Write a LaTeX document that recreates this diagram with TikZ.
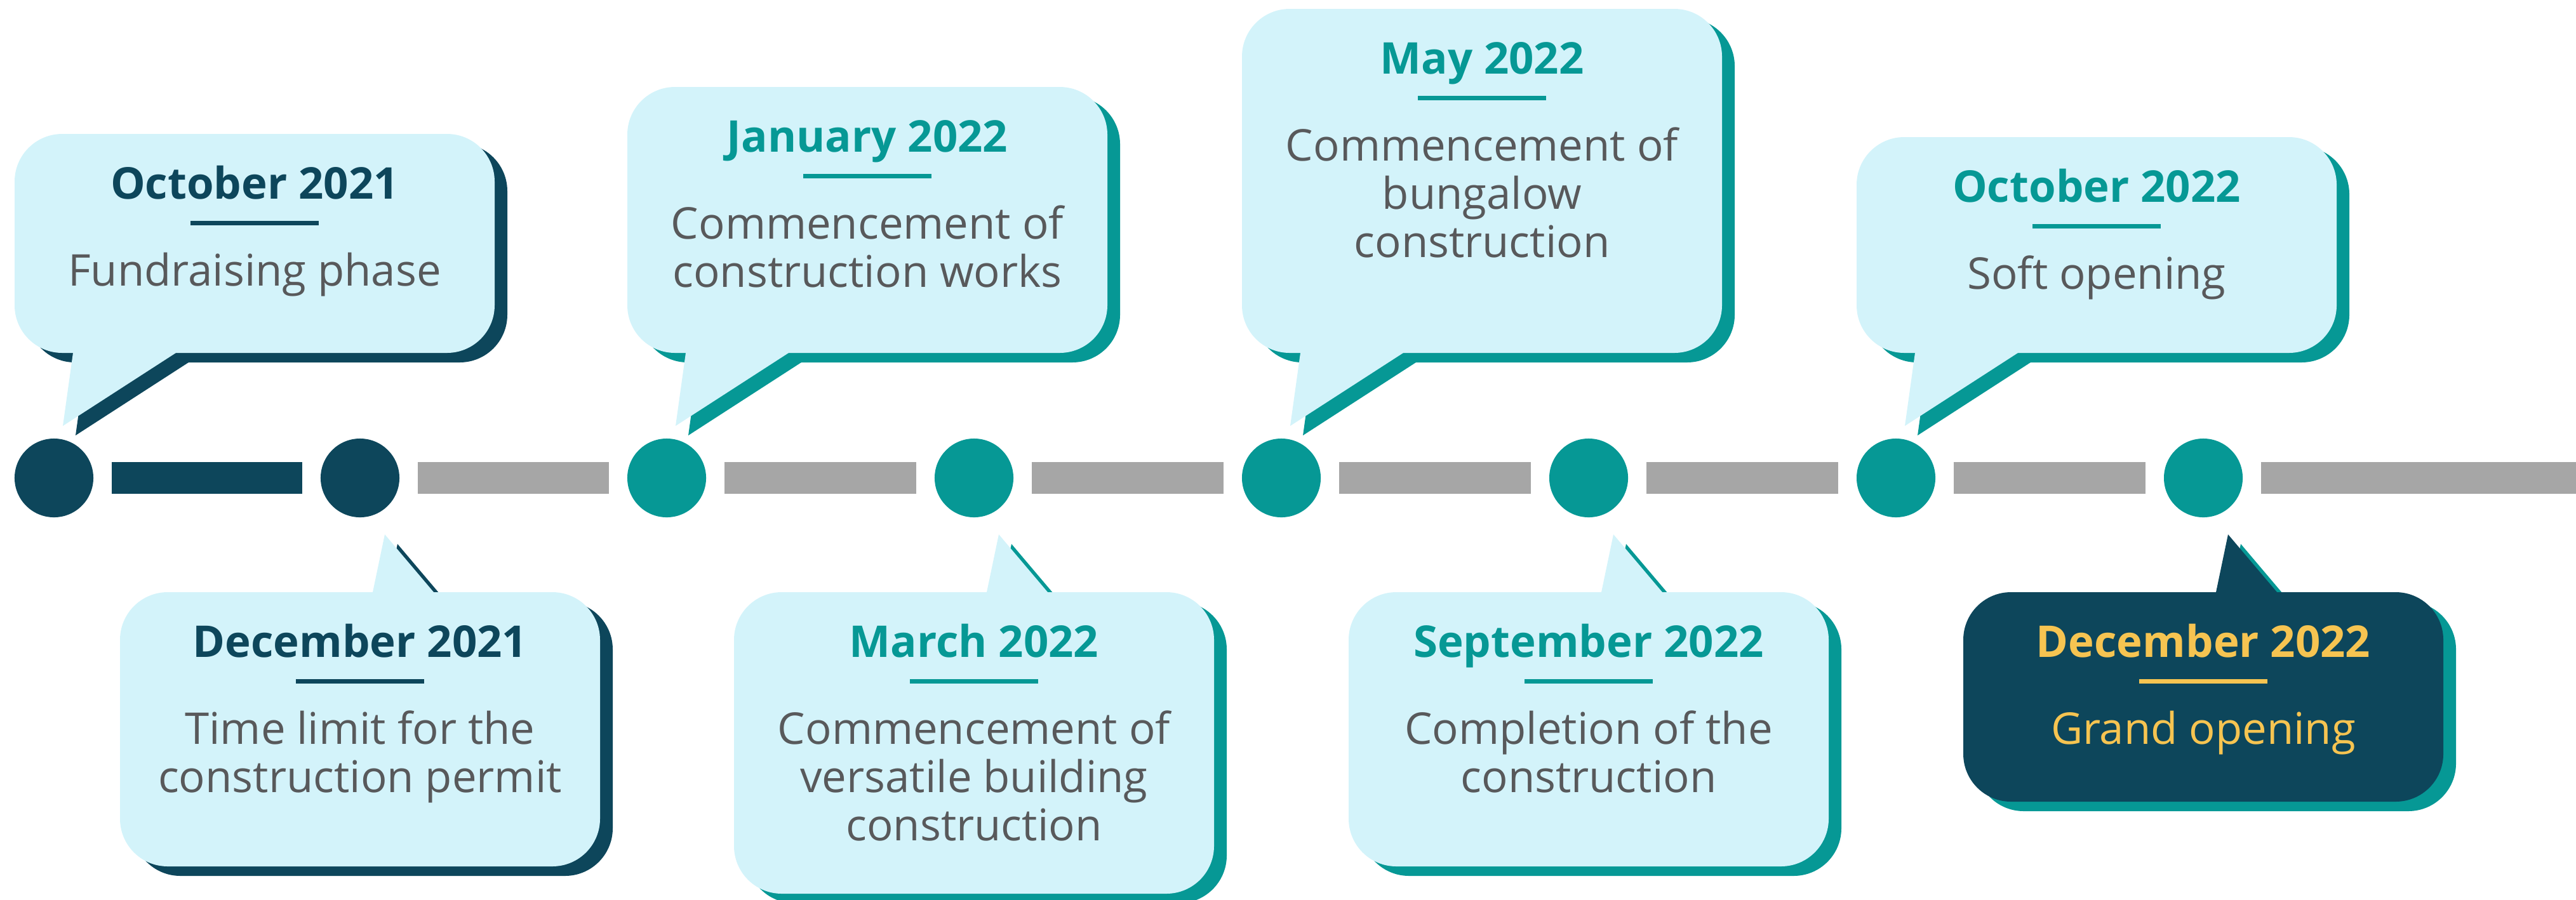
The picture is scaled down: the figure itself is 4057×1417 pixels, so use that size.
\documentclass[tikz,border=0pt]{standalone}
\usepackage{fontspec}
\setmainfont{Open Sans}
\definecolor{navy}{HTML}{0D465B}
\definecolor{tlteal}{HTML}{069895}
\definecolor{lightcy}{HTML}{D3F3FA}
\definecolor{bargrey}{HTML}{A6A6A6}
\definecolor{bodygrey}{HTML}{58595B}
\definecolor{goldy}{HTML}{F6C451}
\newcommand{\callup}[3]{% circle x, top y, colour
  \fill[#3,rounded corners=0.75cm] (#1-62,#2) rectangle (#1+694,556);
  \fill[#3] (#1+30,530) -- (#1+30,556) -- (#1+14,671) -- (#1+192,556) -- (#1+192,530) -- cycle;}
\newcommand{\calldown}[3]{% circle x, bottom y, colour
  \fill[#3,rounded corners=0.75cm] (#1-378,933) rectangle (#1+378,#2);
  \fill[#3] (#1+20,960) -- (#1+20,933) -- (#1+39,842) -- (#1+116,933) -- (#1+116,960) -- cycle;}
\begin{document}
\begin{tikzpicture}[x=0.01cm,y=-0.01cm,
  dot/.style={circle,minimum size=1.24cm,inner sep=0pt},
  bar/.style={line width=0.5cm},
  ttl/.style={font=\fontsize{19.6pt}{21.6pt}\selectfont\bfseries,anchor=base,inner sep=0pt},
  bdy/.style={font=\fontsize{19.6pt}{21.6pt}\selectfont,anchor=base,inner sep=0pt,text=bodygrey},
  rule/.style={line width=0.07cm}]
\useasboundingbox (0,0) rectangle (4057,1417);

% ---- callout shadows and bodies ----
\begin{scope}[shift={(20,15)}]
  \callup{85}{211}{navy}
  \calldown{567}{1365}{navy}
  \callup{1050}{137}{tlteal}
  \calldown{1534}{1408}{tlteal}
  \callup{2018}{14}{tlteal}
  \calldown{2502}{1365}{tlteal}
  \callup{2986}{216}{tlteal}
  \calldown{3470}{1263}{tlteal}
\end{scope}
\callup{85}{211}{lightcy}
\calldown{567}{1365}{lightcy}
\callup{1050}{137}{lightcy}
\calldown{1534}{1408}{lightcy}
\callup{2018}{14}{lightcy}
\calldown{2502}{1365}{lightcy}
\callup{2986}{216}{lightcy}
\calldown{3470}{1263}{navy}

% ---- timeline ----
\node[dot,fill=navy] (c1) at (85,753) {};
\node[dot,fill=navy] (c2) at (567,753) {};
\node[dot,fill=tlteal] (c3) at (1050,753) {};
\node[dot,fill=tlteal] (c4) at (1534,753) {};
\node[dot,fill=tlteal] (c5) at (2018,753) {};
\node[dot,fill=tlteal] (c6) at (2502,753) {};
\node[dot,fill=tlteal] (c7) at (2986,753) {};
\node[dot,fill=tlteal] (c8) at (3470,753) {};
\coordinate (rend) at (4057,753);
\draw[bar,navy] ([xshift=0.28cm]c1.east) -- ([xshift=-0.28cm]c2.west);
\draw[bar,bargrey] ([xshift=0.28cm]c2.east) -- ([xshift=-0.28cm]c3.west);
\draw[bar,bargrey] ([xshift=0.28cm]c3.east) -- ([xshift=-0.28cm]c4.west);
\draw[bar,bargrey] ([xshift=0.28cm]c4.east) -- ([xshift=-0.28cm]c5.west);
\draw[bar,bargrey] ([xshift=0.28cm]c5.east) -- ([xshift=-0.28cm]c6.west);
\draw[bar,bargrey] ([xshift=0.28cm]c6.east) -- ([xshift=-0.28cm]c7.west);
\draw[bar,bargrey] ([xshift=0.28cm]c7.east) -- ([xshift=-0.28cm]c8.west);
\draw[bar,bargrey] ([xshift=0.28cm]c8.east) -- (rend);

% ---- texts ----
% 1
\node[ttl,text=navy] (t1) at (401,313) {October 2021};
\draw[rule,navy] (300,351) -- (502,351);
\node[bdy] (b1) at (401,450) {Fundraising phase};
% 2
\node[ttl,text=navy] (t2) at (567,1035) {December 2021};
\draw[rule,navy] (466,1073) -- (668,1073);
\node[bdy] (b2a) at (567,1172) {Time limit for the};
\node[bdy] (b2b) at (567,1248) {construction permit};
% 3
\node[ttl,text=tlteal] (t3) at (1366,239) {January 2022};
\draw[rule,tlteal] (1265,277) -- (1467,277);
\node[bdy] (b3a) at (1366,376) {Commencement of};
\node[bdy] (b3b) at (1366,452) {construction works};
% 4
\node[ttl,text=tlteal] (t4) at (1534,1035) {March 2022};
\draw[rule,tlteal] (1433,1073) -- (1635,1073);
\node[bdy] (b4a) at (1534,1172) {Commencement of};
\node[bdy] (b4b) at (1534,1248) {versatile building};
\node[bdy] (b4c) at (1534,1324) {construction};
% 5
\node[ttl,text=tlteal] (t5) at (2334,116) {May 2022};
\draw[rule,tlteal] (2233,154) -- (2435,154);
\node[bdy] (b5a) at (2334,253) {Commencement of};
\node[bdy] (b5b) at (2334,329) {bungalow};
\node[bdy] (b5c) at (2334,405) {construction};
% 6
\node[ttl,text=tlteal] (t6) at (2502,1035) {September 2022};
\draw[rule,tlteal] (2401,1073) -- (2603,1073);
\node[bdy] (b6a) at (2502,1172) {Completion of the};
\node[bdy] (b6b) at (2502,1248) {construction};
% 7
\node[ttl,text=tlteal] (t7) at (3302,318) {October 2022};
\draw[rule,tlteal] (3201,356) -- (3403,356);
\node[bdy] (b7) at (3302,455) {Soft opening};
% 8
\node[ttl,text=goldy] (t8) at (3470,1035) {December 2022};
\draw[rule,goldy] (3369,1073) -- (3571,1073);
\node[bdy,text=goldy] (b8) at (3470,1172) {Grand opening};
\end{tikzpicture}
\end{document}
